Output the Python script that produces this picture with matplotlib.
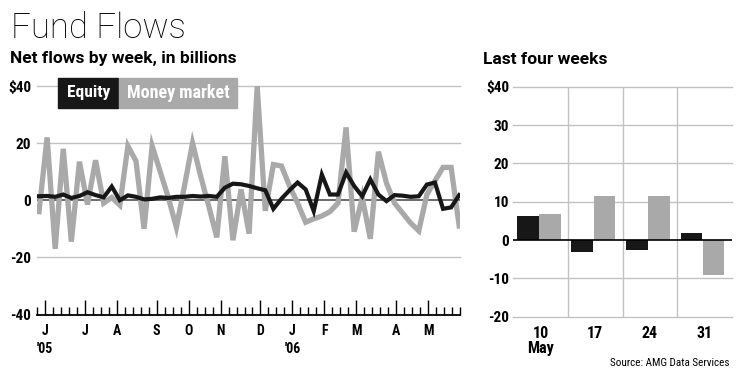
import numpy as np
import matplotlib
matplotlib.use("Agg")
import matplotlib.pyplot as plt
from matplotlib import font_manager
from matplotlib.patches import Rectangle
import matplotlib.transforms as mtransforms

# -----------------------------------------------------------------------------
# Data: weekly net flows in $ billions, late May 2005 .. May 31 2006
# -----------------------------------------------------------------------------
equity = [1.4, 1.5, 1.2, 2.0, 0.8, 1.5, 2.8, 1.8, 1.0, 4.8,
          0.0, 1.7, 1.2, 0.3, 0.5, 1.0, 0.8, 1.2, 1.2, 1.5,
          1.3, 1.5, 1.2, 4.4, 5.8, 5.6, 5.0, 4.2, 3.5, -3.0,
          0.5, 3.5, 6.2, 3.8, -3.8, 9.0, 2.0, 2.0, 9.7, 5.0,
          1.4, 7.3, 2.0, -0.3, 1.8, 1.6, 1.2, 1.4, 5.5, 6.2,
          -3.0, -2.5, 1.8]
money_market = [-4.0, 22.0, -17.0, 18.0, -14.5, 13.5, -1.5, 14.0, -1.0, 1.0,
                -1.7, 19.0, 13.7, -10.0, 19.0, 10.0, 1.0, -9.5, 5.0, 20.0,
                8.5, -2.0, -13.0, 15.4, -14.0, 3.8, -11.7, 40.0, -3.7, 12.5,
                12.0, 5.0, -1.0, -7.7, -6.5, -5.5, -4.0, -1.0, 25.5, -11.0,
                1.0, -13.5, 17.0, 6.0, -1.0, -4.5, -8.0, -10.7, 2.0, 6.8,
                11.5, 11.5, -9.0]

month_labels = ['J', 'J', 'A', 'S', 'O', 'N', 'D', 'J', 'F', 'M', 'A', 'M']
month_tick_idx = [1, 6, 10, 15, 19, 23, 28, 32, 36, 40, 45, 49]
n_ticks = 54
year_labels = {0: "'05", 7: "'06"}

recent_labels = ['10\nMay', '17', '24', '31']
recent_equity = equity[-4:]
recent_mm = money_market[-4:]

# -----------------------------------------------------------------------------
# Style
# -----------------------------------------------------------------------------
available = {f.name for f in font_manager.fontManager.ttflist}


def pick(*names):
    for n in names:
        if n in available:
            return n
    return 'DejaVu Sans'


narrow = pick('Liberation Sans Narrow', 'Roboto Condensed', 'DejaVu Sans Condensed', 'Liberation Sans')
wide = pick('Roboto', 'Liberation Sans', 'DejaVu Sans')
light = pick('Roboto', 'Lato', 'Open Sans', 'DejaVu Sans')
plt.rcParams['font.family'] = [narrow, 'DejaVu Sans']

BLACK = '#171717'
GRAY = '#a9a9a9'
GRID = '#c2c2c2'

W, H = 740, 376
fig = plt.figure(figsize=(W / 100, H / 100), dpi=100)


def px_box(left, top, right, bottom):
    return [left / W, 1 - bottom / H, (right - left) / W, (bottom - top) / H]


# -----------------------------------------------------------------------------
# Left: weekly line chart
# -----------------------------------------------------------------------------
ax = fig.add_axes(px_box(37, 86, 460, 314.5))
weeks = np.arange(len(equity))
ax.set_xlim(-0.25, 52.1)
ax.set_ylim(-40, 40)

for y in (40, 20, -20):
    ax.axhline(y, color=GRID, lw=1.0, zorder=1, clip_on=False)
ax.axhline(0, color='#6a6a6a', lw=1.4, zorder=1)

ax.plot(weeks, money_market, color=GRAY, lw=3.8, zorder=2, solid_joinstyle='miter')
ax.plot(weeks, equity, color=BLACK, lw=3.0, zorder=3, solid_joinstyle='miter')

for side in ('top', 'right', 'left'):
    ax.spines[side].set_visible(False)
ax.spines['bottom'].set_color('black')
ax.spines['bottom'].set_linewidth(1.3)

tick_pos = np.linspace(ax.get_xlim()[0], ax.get_xlim()[1], n_ticks)
ax.set_xticks(tick_pos[month_tick_idx])
ax.set_xticklabels(month_labels, fontsize=10, fontweight='bold')
ax.set_xticks(tick_pos, minor=True)
ax.tick_params(axis='x', which='major', direction='in', length=10.5, width=1.0, pad=7)
ax.tick_params(axis='x', which='minor', direction='in', length=5.8, width=1.0)

ax.set_yticks([-40, -20, 0, 20, 40])
ax.set_yticklabels(['-40', '-20', '0', '20', '$40'], fontsize=11, fontweight='bold')
ax.tick_params(axis='y', length=0, pad=4)

trans = mtransforms.blended_transform_factory(ax.transData, ax.transAxes)
for m, lab in year_labels.items():
    ax.text(tick_pos[month_tick_idx[m]], -0.15, lab, transform=trans,
            ha='center', va='center', fontsize=10, fontweight='bold')

# legend boxes
fig.add_artist(Rectangle((58 / W, 1 - 108 / H), 60 / W, 30 / H,
                         transform=fig.transFigure, color=BLACK, zorder=5))
fig.add_artist(Rectangle((119 / W, 1 - 108 / H), 118 / W, 30 / H,
                         transform=fig.transFigure, color=GRAY, zorder=5))
fig.text(88.5 / W, 1 - 93 / H, 'Equity', color='white', fontsize=12.5,
         fontweight='bold', ha='center', va='center', zorder=6)
fig.text(178 / W, 1 - 93 / H, 'Money market', color='white', fontsize=13,
         fontweight='bold', ha='center', va='center', zorder=6)

# -----------------------------------------------------------------------------
# Right: last four weeks bars
# -----------------------------------------------------------------------------
bx = fig.add_axes(px_box(513.3, 86.7, 731.7, 316.7))
pos = np.arange(len(recent_labels))
bx.set_xlim(-0.5, 3.5)
bx.set_ylim(-20, 40)

for y in range(-20, 41, 10):
    if y != 0:
        bx.axhline(y, color=GRID, lw=1.0, zorder=1, clip_on=False)
for x in pos[:-1] + 0.5:
    bx.axvline(x, color=GRID, lw=1.0, zorder=1)

bx.bar(pos - 0.235, recent_equity, width=0.40, color=BLACK, zorder=2)
bx.bar(pos + 0.17, recent_mm, width=0.39, color=GRAY, zorder=2)
bx.axhline(0, color='black', lw=1.2, zorder=3)

for s in bx.spines.values():
    s.set_visible(False)
bx.set_yticks(range(-20, 41, 10))
bx.set_yticklabels(['-20', '-10', '0', '10', '20', '30', '$40'], fontsize=11, fontweight='bold')
bx.set_xticks(pos)
bx.set_xticklabels(recent_labels, fontsize=11.5, fontweight='bold', linespacing=1.0)
bx.tick_params(axis='y', length=0, pad=3)
bx.tick_params(axis='x', length=0, pad=7)

# -----------------------------------------------------------------------------
# Titles and source
# -----------------------------------------------------------------------------
fig.text(11 / W, 1 - 38 / H, 'Fund Flows', fontsize=25, family=light,
         fontweight='light', ha='left', va='baseline')
fig.text(10 / W, 1 - 63.5 / H, 'Net flows by week, in billions', fontsize=12.5,
         family=[wide, 'DejaVu Sans'], fontweight='bold', ha='left', va='baseline')
fig.text(483 / W, 1 - 63.5 / H, 'Last four weeks', fontsize=12.5,
         family=[wide, 'DejaVu Sans'], fontweight='bold', ha='left', va='baseline')
fig.text(730 / W, 1 - 363 / H, 'Source: AMG Data Services', fontsize=8,
         ha='right', va='center')

fig.savefig('out.png', dpi=100)
